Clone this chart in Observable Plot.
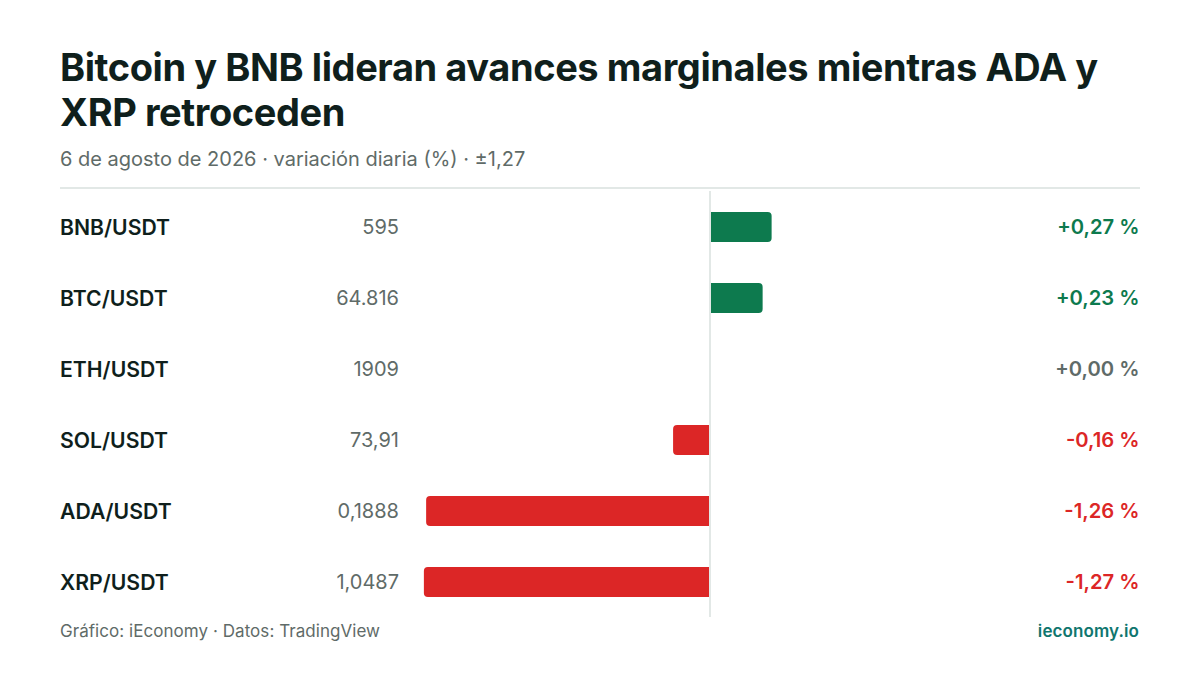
<!DOCTYPE html>
<html lang="es"><head><meta charset="utf-8">
<script src="https://cdn.jsdelivr.net/npm/d3@7"></script>
<script src="https://cdn.jsdelivr.net/npm/@observablehq/plot@0.6"></script>
<style>
html,body{margin:0;background:#fff;font-family:Inter,sans-serif;width:1200px;height:675px;overflow:hidden}
#wrap{position:relative;width:1200px;height:675px}
h1{position:absolute;left:60px;top:44.6px;width:1080px;margin:0;font-size:38px;line-height:45.6px;font-weight:700;color:#0f1f1c;letter-spacing:-0.42px}
#sub{position:absolute;left:60px;top:147px;font-size:20px;line-height:24px;color:#5f6b68}
#rule{position:absolute;left:60px;top:187px;width:1080px;height:2px;background:#e2e8e6}
#chart{position:absolute;left:0;top:191px;width:1200px}
#chart svg{display:block}
#src{position:absolute;left:60px;top:621px;font-size:17px;line-height:20px;color:#5f6b68;letter-spacing:0.05px}
#brand{position:absolute;right:61px;top:621px;font-size:17px;line-height:20px;font-weight:600;color:#0f766e;letter-spacing:0.1px}
</style></head><body>
<div id="wrap">
<h1>Bitcoin y BNB lideran avances marginales mientras ADA y XRP retroceden</h1>
<div id="sub">6 de agosto de 2026 · variación diaria (%) · ±1,27</div>
<div id="rule"></div>
<div id="chart"></div>
<div id="src">Gráfico: iEconomy · Datos: TradingView</div>
<div id="brand">ieconomy.io</div>
</div>
<script>
const pairs = ["BNB/USDT","BTC/USDT","ETH/USDT","SOL/USDT","ADA/USDT","XRP/USDT"];
const prices = ["595","64.816","1909","73,91","0,1888","1,0487"];
const changes = [0.27,0.23,0,-0.16,-1.26,-1.27];
const changeLabels = ["+0,27 %","+0,23 %","+0,00 %","-0,16 %","-1,26 %","-1,27 %"];

const GREEN="#0d7a4e", RED="#dc2626", GREY="#5f6b68", INK="#0f1f1c";
const rows = pairs.map((pair,i)=>({pair,price:prices[i],change:changes[i],label:changeLabels[i]}));
const tone = d => d.change>0?GREEN:d.change<0?RED:GREY;
const font = {fontFamily:"Inter, sans-serif"};

const chart = Plot.plot({
  width:1200,height:426,marginTop:0,marginBottom:0,marginLeft:0,marginRight:0,
  style:{background:"#fff",fontFamily:"Inter, sans-serif"},
  x:{domain:[-710/224.5,490/224.5],range:[0,1200],axis:null},
  y:{domain:pairs,range:[0.5,426.5],paddingInner:41/71,paddingOuter:20.5/71,axis:null},
  marks:[
    Plot.barX(rows.filter(d=>d.change>0),{x1:0,x2:"change",y:"pair",fill:GREEN,dx:1,rx2y1:4,rx2y2:4}),
    Plot.barX(rows.filter(d=>d.change<0),{x1:"change",x2:0,y:"pair",fill:RED,dx:-1,rx1y1:4,rx1y2:4}),
    Plot.ruleX([0],{stroke:"#e2e8e6",strokeWidth:2,dx:-0.5}),
    Plot.text(rows,{y:"pair",text:"pair",frameAnchor:"left",dx:59.5,dy:0.6,textAnchor:"start",fill:INK,fontWeight:600,fontSize:21.2,...font}),
    Plot.text(rows,{y:"pair",text:"price",frameAnchor:"left",dx:398.5,textAnchor:"end",fill:GREY,fontSize:20,...font}),
    Plot.text(rows,{y:"pair",text:"label",frameAnchor:"right",dx:-61,textAnchor:"end",fill:tone,fontWeight:600,fontSize:20.2,...font})
  ]
});
document.getElementById("chart").append(chart);
</script>
</body></html>
